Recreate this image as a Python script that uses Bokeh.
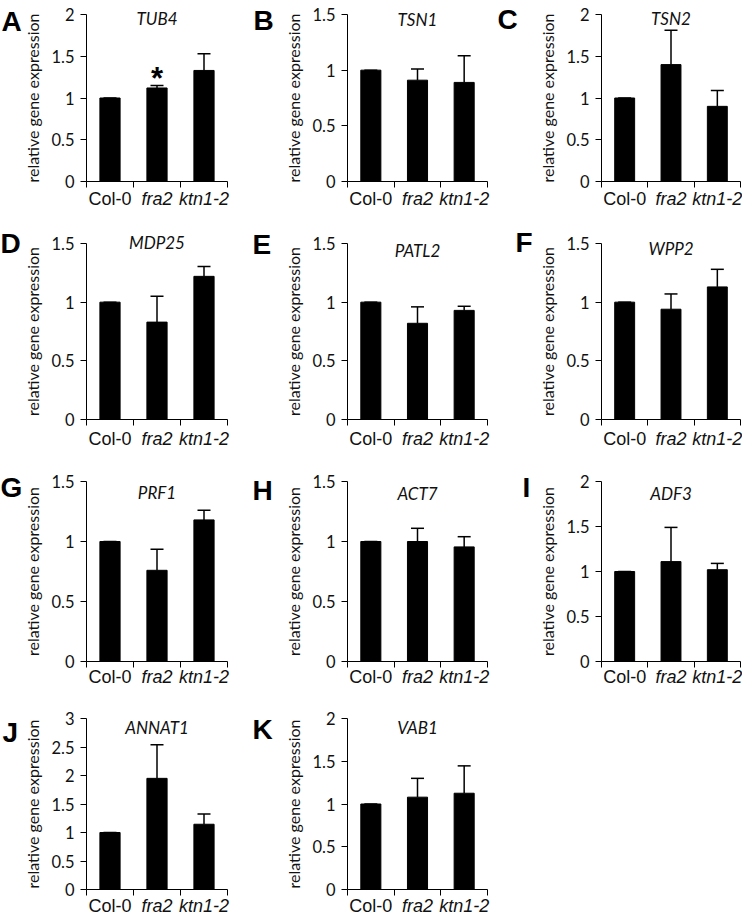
import numpy as np
from bokeh.plotting import figure
from bokeh.models import (Range1d, FixedTicker, NumeralTickFormatter, Label,
                          Whisker, ColumnDataSource, TeeHead)
from bokeh.core.properties import value
from bokeh.layouts import row, column
from bokeh.embed import file_html
from bokeh.resources import INLINE

# ---------------- data ----------------
categories = ["Col-0", "fra2", "ktn1-2"]
category_italic = [False, True, True]

tub4_mean = [1.00, 1.12, 1.33]
tub4_err = [0.00, 0.03, 0.20]
tsn1_mean = [1.00, 0.91, 0.89]
tsn1_err = [0.00, 0.10, 0.24]
tsn2_mean = [1.00, 1.40, 0.90]
tsn2_err = [0.00, 0.41, 0.19]
mdp25_mean = [1.00, 0.83, 1.22]
mdp25_err = [0.00, 0.22, 0.085]
patl2_mean = [1.00, 0.82, 0.93]
patl2_err = [0.00, 0.14, 0.035]
wpp2_mean = [1.00, 0.94, 1.13]
wpp2_err = [0.00, 0.13, 0.15]
prf1_mean = [1.00, 0.76, 1.18]
prf1_err = [0.00, 0.175, 0.08]
act7_mean = [1.00, 1.00, 0.955]
act7_err = [0.00, 0.11, 0.085]
adf3_mean = [1.00, 1.11, 1.02]
adf3_err = [0.00, 0.38, 0.07]
annat1_mean = [1.00, 1.95, 1.145]
annat1_err = [0.00, 0.59, 0.18]
vab1_mean = [1.00, 1.08, 1.126]
vab1_err = [0.00, 0.22, 0.32]

panel_letters = ["A", "B", "C", "D", "E", "F", "G", "H", "I", "J", "K"]
gene_names = ["TUB4", "TSN1", "TSN2", "MDP25", "PATL2", "WPP2",
              "PRF1", "ACT7", "ADF3", "ANNAT1", "VAB1"]
axis_max = [2, 1.5, 2, 1.5, 1.5, 1.5, 1.5, 1.5, 2, 3, 2]
axis_step = [0.5] * 11
significant = [[False, True, False]] + [[False, False, False]] * 10

means = [tub4_mean, tsn1_mean, tsn2_mean, mdp25_mean, patl2_mean, wpp2_mean,
         prf1_mean, act7_mean, adf3_mean, annat1_mean, vab1_mean]
errs = [tub4_err, tsn1_err, tsn2_err, mdp25_err, patl2_err, wpp2_err,
        prf1_err, act7_err, adf3_err, annat1_err, vab1_err]

# ---------------- layout geometry (pixels inside each canvas) ----------------
col_w = [250, 245, 247]
plot_left = [86, 97, 106]       # x of the y axis
plot_right = [227, 237, 245]    # x of the end of the x axis
row_h = [213, 237, 238, 229]
plot_top = [14, 30, 31, 30]     # y of the top of the y axis
plot_bottom = [181, 206, 211, 201]  # y of the x axis
cat_label_gap = [23, 25, 21, 22]

letter_x = [1, 3, 2, 0, 2, 20, 0, 2, 27, 2, 2]
letter_base = [29, 28, 27, 38, 39, 37, 45, 48, 45, 52, 49]
title_base = [23, 24, 23, 34, 42, 40, 47, 48, 48, 44, 44]
SHIFT_EM = 0.29   # svg text lands this fraction of its size below the baseline asked for

TICK_FONT = "Lato"
CAT_FONT = "Liberation Sans"
INK = "#111111"
CAT_SIZE, TITLE_SIZE, LETTER_SIZE = 18, 17, 28


def make_panel(i):
    r, c = divmod(i, 3)
    W, H = col_w[c], row_h[r]
    L, R = plot_left[c], plot_right[c]
    T, B = plot_top[r], plot_bottom[r]
    n = len(categories)
    ppx = (R - L) / n
    ppy = (B - T) / axis_max[i]
    x_range = Range1d(-L / ppx, n + (W - R) / ppx)
    y_range = Range1d(-(H - B) / ppy, axis_max[i] + T / ppy)

    p = figure(width=W, height=H, output_backend="svg", toolbar_location=None,
               x_range=x_range, y_range=y_range,
               min_border=0, min_border_left=0, min_border_right=0,
               min_border_top=0, min_border_bottom=0)
    p.outline_line_color = None
    p.xgrid.visible = False
    p.ygrid.visible = False
    p.background_fill_color = "white"
    p.border_fill_color = "white"

    xs = [k + 0.5 for k in range(n)]
    src = ColumnDataSource(dict(
        x=xs, mean=means[i],
        upper=[m + e for m, e in zip(means[i], errs[i])]))
    p.vbar(x="x", top="mean", width=0.43, source=src,
           fill_color="black", line_color="black", line_width=1)
    w = Whisker(source=src, base="x", lower="mean", upper="upper",
                upper_head=TeeHead(size=13, line_color="black", line_width=1.5),
                lower_head=None, line_color="black", line_width=1.5)
    p.add_layout(w)

    # significance marks
    sig_x = [xs[k] for k in range(n) if significant[i][k]]
    sig_y = [means[i][k] + errs[i][k] for k in range(n) if significant[i][k]]
    if sig_x:
        p.text(x=sig_x, y=sig_y, text=["*"] * len(sig_x), y_offset=-7,
               text_font=value(CAT_FONT), text_font_size="31px",
               text_font_style="bold", text_align="center",
               text_baseline="alphabetic", text_color="black")

    # x axis: ticks at category boundaries
    xa = p.xaxis[0]
    xa.fixed_location = 0
    xa.bounds = (0, n)
    xa.ticker = FixedTicker(ticks=list(range(n + 1)), minor_ticks=[])
    xa.major_label_overrides = {k: "" for k in range(n + 1)}
    xa.major_tick_out = 6
    xa.major_tick_in = 0
    xa.axis_line_color = "black"
    xa.major_tick_line_color = "black"
    xa.minor_tick_line_color = None

    ya = p.yaxis[0]
    ya.fixed_location = 0
    ya.bounds = (0, axis_max[i])
    ya.ticker = FixedTicker(
        ticks=list(np.arange(0, axis_max[i] + axis_step[i] / 2, axis_step[i])),
        minor_ticks=[])
    ya.formatter = NumeralTickFormatter(format="0.[0]")
    ya.major_tick_out = 6
    ya.major_tick_in = 0
    ya.minor_tick_line_color = None
    ya.axis_line_color = "black"
    ya.major_tick_line_color = "black"
    ya.major_label_text_font = TICK_FONT
    ya.major_label_text_font_size = "16.5px"
    ya.major_label_text_color = INK
    ya.major_label_standoff = 6
    ya.axis_label = "relative gene expression"
    ya.axis_label_text_font = TICK_FONT
    ya.axis_label_text_font_size = "16px"
    ya.axis_label_text_font_style = "normal"
    ya.axis_label_text_color = INK
    ya.axis_label_standoff = 6

    # category labels under the axis
    for k, cat in enumerate(categories):
        p.add_layout(Label(x=xs[k], y=H - B - cat_label_gap[r] + SHIFT_EM * CAT_SIZE,
                           x_units="data", y_units="screen",
                           text=cat, text_font=CAT_FONT, text_font_size=f"{CAT_SIZE}px",
                           text_font_style="italic" if category_italic[k] else "normal",
                           text_align="center", text_baseline="alphabetic",
                           text_color=INK))

    # gene title
    p.add_layout(Label(x=n / 2, y=H - title_base[i] + SHIFT_EM * TITLE_SIZE,
                       x_units="data", y_units="screen", text=gene_names[i],
                       text_font=TICK_FONT, text_font_size=f"{TITLE_SIZE}px",
                       text_font_style="italic", text_align="center",
                       text_baseline="alphabetic", text_color=INK))
    # panel letter
    p.add_layout(Label(x=letter_x[i], y=H - letter_base[i] + SHIFT_EM * LETTER_SIZE,
                       x_units="screen", y_units="screen", text=panel_letters[i],
                       text_font=CAT_FONT, text_font_size=f"{LETTER_SIZE}px",
                       text_font_style="bold", text_align="left",
                       text_baseline="alphabetic", text_color="black"))
    return p


panels = [make_panel(i) for i in range(len(gene_names))]
rows = [row(panels[k:k + 3], spacing=0) for k in range(0, len(panels), 3)]
layout = column(rows, spacing=0)

open("out.html", "w").write(file_html(layout, INLINE))
